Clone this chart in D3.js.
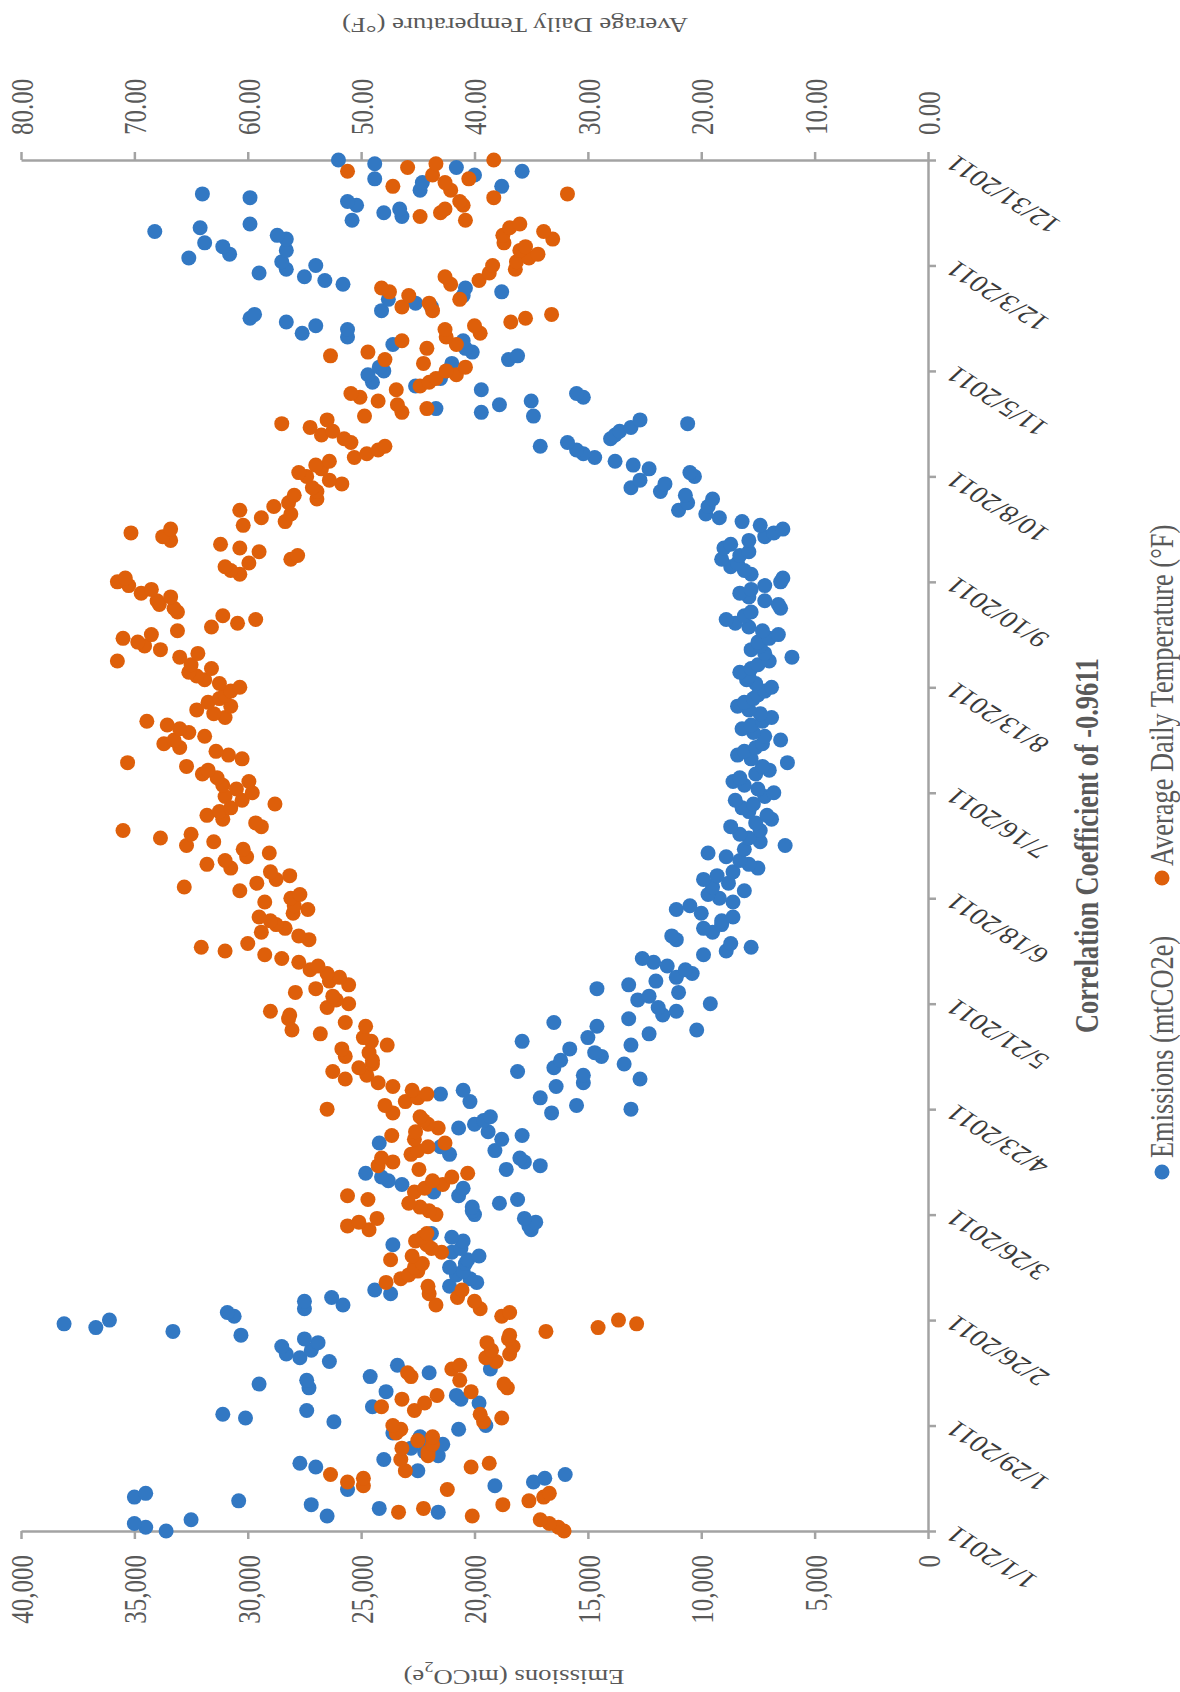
<!DOCTYPE html>
<html><head><meta charset="utf-8">
<script src="https://cdn.jsdelivr.net/npm/d3@7"></script>
<style>body{margin:0;background:#fff} svg{display:block}</style>
</head><body><svg id="chart" width="1180" height="1692"></svg>
<script>
// Daily values starting 1/1/2011
const emissions = [
33600,34500,35000,32500,26500,21600,24200,27200,30400,35000,
34500,25600,19100,17400,16900,16000,22500,27000,27700,24000,
21600,22200,22800,21400,22000,22400,23600,20700,19500,26200,
30100,31100,27400,24500,19800,20600,20800,23900,27300,29500,
27400,24600,22000,19300,23400,26400,27700,28300,27200,28500,
26900,27500,30300,33300,36700,38100,36100,30600,30900,27500,
25800,27500,26300,23700,24400,21100,19900,20200,20800,20500,
21100,20400,20300,19800,21000,20600,23600,20500,21000,21900,
17500,17600,17300,17800,20000,20100,20100,18900,18100,20700,
21800,20500,23200,23800,24100,24800,18600,17100,17800,18000,
21100,19100,21500,24200,18800,17900,19400,20700,20000,19600,
19300,16600,13100,15500,20200,17100,21500,20500,16400,15200,
12700,15200,18100,16500,13400,16200,14400,14700,15800,13100,
17900,15000,12300,10200,14600,16500,13200,11700,11100,11900,
9600,12800,12300,11000,14600,13200,12000,11100,10400,10700,
11500,12100,12600,9900,8900,7800,8700,11100,11300,9500,
9900,9100,9100,8600,10000,11100,10500,8600,9200,9700,
8100,9500,8800,9900,9300,8600,7500,7900,8300,8900,
9700,8100,6300,7400,7900,8300,7400,8700,7600,6900,
7100,7900,8200,7700,8500,7200,6800,7500,8100,8600,
8300,7600,7000,7300,6200,7800,8400,8100,7600,7300,
6500,7200,7700,8200,7800,7300,6900,7400,7900,8400,
8100,7700,7500,7200,6900,7600,8000,7900,8300,7800,
7500,7000,6000,7200,7800,7400,7500,7000,6600,7300,
7900,8500,8900,8100,7800,6500,6600,7200,7900,8300,
7800,7200,6500,6400,7800,8100,8700,8400,9100,8300,
7900,9000,8700,7900,7200,6800,6400,7400,8200,9200,
9800,11000,9700,10600,9500,10700,11800,13100,11600,12700,
10300,10500,12300,13000,13800,14700,15200,15500,17100,15900,
14000,13800,13600,13100,10600,12700,17400,19700,21700,18900,
17500,15200,15500,19700,22600,24500,21500,24700,24000,24200,
21000,18500,18100,20100,20400,23600,20500,25600,27600,25600,
27000,28300,29900,29700,24100,21900,22600,23800,20500,18800,
20400,25800,26600,27500,29500,28300,27000,28500,32600,30800,
28300,31100,31900,28300,28700,34100,32100,29900,25400,23200,
24000,23300,25200,25600,29900,32000,22400,18800,22300,24400,
20000,17900,20800,24400,26000];

const temperature = [
32.1,32.6,33.4,34.2,40.2,46.7,44.5,37.5,35.2,33.9,
33.4,42.4,49.8,51.2,49.8,52.7,46.1,40.3,38.7,46.5,
44.1,44.1,46.4,43.7,45.0,43.7,46.9,46.5,47.2,39.2,
37.6,39.5,45.3,48.2,44.4,46.4,43.3,40.3,37.1,37.4,
41.3,45.6,45.9,42.0,41.3,38.1,39.0,36.9,38.5,36.6,
38.9,37.0,36.9,33.7,29.1,25.7,27.3,37.6,36.9,39.5,
43.4,40.0,41.5,44.0,41.1,44.1,47.8,46.5,45.8,45.0,
45.3,44.6,47.4,45.5,42.9,43.8,44.2,45.2,44.6,44.2,
49.3,51.2,50.2,48.6,43.4,44.0,44.8,45.8,49.4,51.2,
45.3,44.4,42.8,43.7,42.0,40.6,44.9,48.5,47.2,48.2,
45.6,45.0,44.1,42.6,45.3,47.3,45.2,43.2,44.1,44.5,
44.8,47.2,53.0,47.9,46.1,45.0,44.2,45.5,47.2,48.5,
51.4,49.5,52.5,50.2,49.0,49.0,51.4,49.3,51.7,47.7,
49.1,49.8,53.6,56.1,49.6,51.4,56.4,56.3,58.0,53.0,
51.1,52.2,52.5,55.8,54.0,51.1,52.8,51.9,53.0,54.5,
53.8,55.5,57.0,58.5,62.0,64.1,60.0,54.6,55.5,58.8,
56.7,57.5,58.0,59.0,56.0,54.7,55.9,58.5,56.2,55.4,
60.7,65.6,59.2,57.5,56.3,58.0,61.5,63.6,62.0,60.1,
58.1,60.4,65.4,63.0,67.7,65.0,71.0,58.8,59.3,62.2,
63.6,62.5,61.5,57.6,60.5,62.0,59.6,61.0,62.2,59.9,
62.7,64.0,63.5,65.4,70.6,60.5,61.7,62.8,66.0,67.4,
66.5,63.8,65.2,66.0,67.1,68.9,62.0,63.0,64.5,61.5,
63.5,62.5,62.0,61.5,60.7,62.5,63.8,64.5,65.2,63.2,
65.0,71.5,66.0,64.4,67.7,69.1,69.7,71.0,68.5,66.2,
63.2,60.9,59.3,62.2,66.2,66.5,67.8,68.0,66.8,69.4,
68.5,70.5,71.5,70.8,60.7,61.5,62.0,59.9,56.2,55.6,
59.0,60.7,62.4,66.8,67.5,70.3,66.8,60.4,56.7,58.8,
56.2,60.7,57.7,56.4,53.9,55.9,53.9,54.3,51.7,52.8,
54.8,55.5,53.5,54.0,52.8,50.6,49.5,48.5,47.9,50.9,
51.5,53.5,52.5,54.5,57.0,53.0,49.7,46.4,44.2,46.8,
48.5,50.1,50.9,46.9,44.8,44.0,43.4,41.6,42.5,40.8,
44.5,47.9,52.7,49.4,44.2,41.6,46.4,42.5,39.5,42.6,
40.0,36.8,35.5,33.2,43.7,46.4,44.0,41.3,45.8,47.5,
48.2,42.1,39.6,42.6,38.7,36.4,38.4,36.3,35.2,34.4,
36.0,35.5,37.4,33.1,37.5,33.9,36.9,36.0,40.8,44.8,
43.0,42.6,41.0,41.3,38.3,31.8,42.1,47.2,42.6,40.5,
43.7,51.2,45.9,43.4,38.3];

const dateTickLabels = ["1/1/2011","1/29/2011","2/26/2011","3/26/2011","4/23/2011","5/21/2011",
  "6/18/2011","7/16/2011","8/13/2011","9/10/2011","10/8/2011","11/5/2011","12/3/2011","12/31/2011"];
const emissionTicks = [0,5000,10000,15000,20000,25000,30000,35000,40000];
const temperatureTicks = [0,10,20,30,40,50,60,70,80];
const seriesNames = ["Emissions (mtCO2e)","Average Daily Temperature (°F)"];
const seriesColors = ["#3278C3","#DE5F0A"];
const chartTitle = "Correlation Coefficient of -0.9611";

const SX = 1.3;              // horizontal glyph stretch seen in the picture
const serif = "'Liberation Serif','Times New Roman',serif";
const axisColor = "#a3a3a3";
const svg = d3.select("#chart");

const parse = s => { const [m,d,y] = s.split("/").map(Number); return new Date(Date.UTC(y, m-1, d)); };
const startDate = parse(dateTickLabels[0]);
const endDate = parse(dateTickLabels[dateTickLabels.length-1]);
const dayDate = i => new Date(startDate.getTime() + i*86400000);

const plotTop = 160, plotBottom = 1531, plotLeft = 21, plotRight = 928;
const yDate = d3.scaleUtc().domain([startDate, endDate]).range([plotBottom, plotTop]);
const xE = d3.scaleLinear().domain([0, 40000]).range([plotRight, plotLeft]);
const xT = d3.scaleLinear().domain([0, 80]).range([plotRight, plotLeft]);

function styleAxis(g){
  g.select(".domain").attr("stroke", axisColor).attr("stroke-width", 2.5);
  g.selectAll(".tick line").attr("stroke", axisColor).attr("stroke-width", 2.5);
}

// Emissions axis (bottom)
const gE = svg.append("g").attr("transform", `translate(0,${plotBottom})`)
  .call(d3.axisBottom(xE).tickValues(emissionTicks).tickFormat(d3.format(",")).tickSize(8).tickSizeOuter(0));
styleAxis(gE);
gE.selectAll(".tick text").attr("y", null).attr("x", null).attr("dy", "0.35em")
  .attr("transform", `translate(0,24) scale(${SX},1) rotate(-90)`)
  .attr("text-anchor", "end").attr("fill", "#595959")
  .attr("font-family", serif).attr("font-size", 25);

// Temperature axis (top)
const gT = svg.append("g").attr("transform", `translate(0,${plotTop})`)
  .call(d3.axisTop(xT).tickValues(temperatureTicks).tickFormat(d3.format(".2f")).tickSize(8).tickSizeOuter(0));
styleAxis(gT);
gT.selectAll(".tick text").attr("y", null).attr("x", null).attr("dy", "0.35em")
  .attr("transform", `translate(0,-25) scale(${SX},1) rotate(-90)`)
  .attr("text-anchor", "start").attr("fill", "#595959")
  .attr("font-family", serif).attr("font-size", 25);

// Date axis (right side of plot)
const gD = svg.append("g").attr("transform", `translate(${plotRight},0)`)
  .call(d3.axisRight(yDate).tickValues(dateTickLabels.map(parse))
    .tickFormat((d,i) => dateTickLabels[i]).tickSize(8).tickSizeOuter(0));
styleAxis(gD);
gD.selectAll(".tick text").attr("x", null).attr("y", null).attr("dy", "0.35em")
  .attr("transform", `translate(22,0) scale(${SX},1) rotate(-140)`)
  .attr("text-anchor", "end").attr("fill", "#3a3a3a")
  .attr("font-family", serif).attr("font-size", 23.5);

// Points
const r = 7.5;
svg.append("g").selectAll("circle").data(emissions).join("circle")
  .attr("cx", d => xE(d)).attr("cy", (d,i) => yDate(dayDate(i)))
  .attr("r", r).attr("fill", seriesColors[0]);
svg.append("g").selectAll("circle").data(temperature).join("circle")
  .attr("cx", d => xT(d)).attr("cy", (d,i) => yDate(dayDate(i)))
  .attr("r", r).attr("fill", seriesColors[1]);

// Axis titles (upside down)
svg.append("text")
  .attr("transform", `translate(515,17.5) scale(${SX},1) rotate(180)`)
  .attr("text-anchor", "middle").attr("font-family", serif).attr("font-size", 20.6)
  .attr("fill", "#595959").text("Average Daily Temperature (°F)");
const tBot = svg.append("text")
  .attr("transform", `translate(514,1670) scale(${SX},1) rotate(180)`)
  .attr("text-anchor", "middle").attr("font-family", serif).attr("font-size", 20.6)
  .attr("fill", "#595959");
tBot.append("tspan").text("Emissions (mtCO");
tBot.append("tspan").attr("baseline-shift", "sub").attr("font-size", 14).text("2");
tBot.append("tspan").text("e)");

// Chart title
svg.append("text")
  .attr("transform", `translate(1087,845.5) scale(${SX},1) rotate(-90)`)
  .attr("text-anchor", "middle").attr("dy", "0.33em")
  .attr("font-family", serif).attr("font-weight", "bold").attr("font-size", 26.3)
  .attr("fill", "#595959").text(chartTitle);

// Legend
const legendItems = [
  {name: seriesNames[0], color: seriesColors[0], my: 1172, ty: 1158},
  {name: seriesNames[1], color: seriesColors[1], my: 878, ty: 866}
];
const lg = svg.append("g");
legendItems.forEach(it => {
  lg.append("circle").attr("cx", 1162).attr("cy", it.my).attr("r", r).attr("fill", it.color);
  lg.append("text").attr("transform", `translate(1162,${it.ty}) scale(${SX},1) rotate(-90)`)
    .attr("text-anchor", "start").attr("dy", "0.33em")
    .attr("font-family", serif).attr("font-size", 26.4).attr("fill", "#595959").text(it.name);
});
</script>
</body></html>
